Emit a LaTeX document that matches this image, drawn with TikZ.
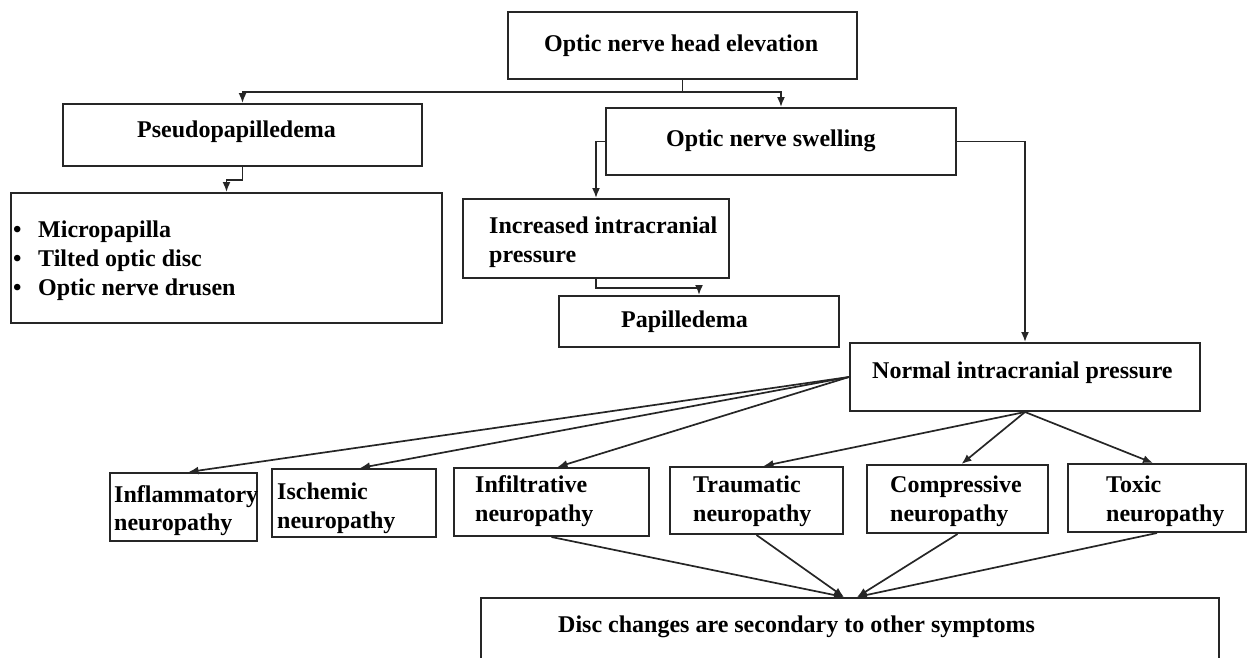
\documentclass[tikz,border=0pt]{standalone}
\usepackage{fontspec}
\setmainfont{Liberation Serif}
\usetikzlibrary{arrows.meta,calc}
\begin{document}
\begin{tikzpicture}[x=1pt,y=-1pt,
 box/.style={draw=black!85,line width=2pt,inner sep=0pt,fill=white},
 lbl/.style={anchor=base west,inner sep=0pt,font=\fontsize{24}{29}\selectfont\bfseries},
 line/.style={draw=black!85,line width=1.7pt},
 conn/.style={line,-{Latex[length=10pt,width=8pt]}}]
\path[use as bounding box] (0,0) rectangle (1249,657);
\clip (0,0) rectangle (1249,657);
% boxes
\node[box,minimum width=349pt,minimum height=67pt] (top) at (682.5,45.5) {};
\node[box,minimum width=359pt,minimum height=62pt] (pseudo) at (242.5,135) {};
\node[box,minimum width=350pt,minimum height=67pt] (ons) at (781,141.5) {};
\node[box,minimum width=431pt,minimum height=130pt] (bullets) at (226.5,258) {};
\node[box,minimum width=266pt,minimum height=79pt] (icp) at (596,238.5) {};
\node[box,minimum width=280pt,minimum height=51pt] (pap) at (699,321.5) {};
\node[box,minimum width=350pt,minimum height=68pt] (nicp) at (1025,377) {};
\node[box,minimum width=147pt,minimum height=68pt] (infl) at (183.5,507) {};
\node[box,minimum width=164pt,minimum height=68pt] (isch) at (354,503) {};
\node[box,minimum width=195pt,minimum height=68pt] (infil) at (551.5,502) {};
\node[box,minimum width=173pt,minimum height=67pt] (trau) at (756.5,500.5) {};
\node[box,minimum width=181pt,minimum height=68pt] (comp) at (957.5,499) {};
\node[box,minimum width=178pt,minimum height=68pt] (tox) at (1157,498) {};
\node[box,minimum width=738pt,minimum height=102pt] (disc) at (850,649) {};
% connectors
\coordinate (j1) at (682.5,92);
\draw[line] (top.south) -- (j1);
\draw[conn] (j1) -| (pseudo.north);
\draw[conn] (j1) -| (ons.north);
\draw[conn] (pseudo.south) -- ++(0,13) -| (bullets.north);
\draw[conn] (ons.west) -| (icp.north);
\draw[conn] (icp.south) -- ++(0,9) -| (pap.north);
\draw[conn] (ons.east) -| (nicp.north);
\draw[conn] (nicp.west) -- ([xshift=5pt]infl.north);
\draw[conn] (nicp.west) -- ([xshift=6pt]isch.north);
\draw[conn] (nicp.west) -- ([xshift=6pt]infil.north);
\draw[conn] (nicp.south) -- ([xshift=7pt]trau.north);
\draw[conn] (nicp.south) -- ([xshift=4pt]comp.north);
\draw[conn] (nicp.south) -- ([xshift=-4pt]tox.north);
\draw[conn] (infil.south) -- ([xshift=-6pt]disc.north);
\draw[conn] (trau.south) -- ([xshift=-6pt]disc.north);
\draw[conn] (comp.south) -- ([xshift=7pt]disc.north);
\draw[conn] (tox.south) -- ([xshift=7pt]disc.north);
% labels
\node[lbl] (ttop) at (544,51) {Optic nerve head elevation};
\node[lbl] (tpseudo) at (137,137) {Pseudopapilledema};
\node[lbl] (tons) at (666,146) {Optic nerve swelling};
\node[lbl] (b1) at (13,237) {\textbullet};
\node[lbl] (b2) at (13,266) {\textbullet};
\node[lbl] (b3) at (13,295) {\textbullet};
\node[lbl] (tb1) at (38,237) {Micropapilla};
\node[lbl] (tb2) at (38,266) {Tilted optic disc};
\node[lbl] (tb3) at (38,295) {Optic nerve drusen};
\node[lbl] (ticp1) at (489,233) {Increased intracranial};
\node[lbl] (ticp2) at (489,262) {pressure};
\node[lbl] (tpap) at (621,327) {Papilledema};
\node[lbl] (tnicp) at (872,378) {Normal intracranial pressure};
\node[lbl] (tinfl1) at (114,502) {Inflammatory};
\node[lbl] (tinfl2) at (114,530) {neuropathy};
\node[lbl] (tisch1) at (277,499) {Ischemic};
\node[lbl] (tisch2) at (277,528) {neuropathy};
\node[lbl] (tinfil1) at (475,492) {Infiltrative};
\node[lbl] (tinfil2) at (475,521) {neuropathy};
\node[lbl] (ttrau1) at (693,492) {Traumatic};
\node[lbl] (ttrau2) at (693,521) {neuropathy};
\node[lbl] (tcomp1) at (890,492) {Compressive};
\node[lbl] (tcomp2) at (890,521) {neuropathy};
\node[lbl] (ttox1) at (1106,492) {Toxic};
\node[lbl] (ttox2) at (1106,521) {neuropathy};
\node[lbl] (tdisc) at (558,632) {Disc changes are secondary to other symptoms};
\end{tikzpicture}
\end{document}
